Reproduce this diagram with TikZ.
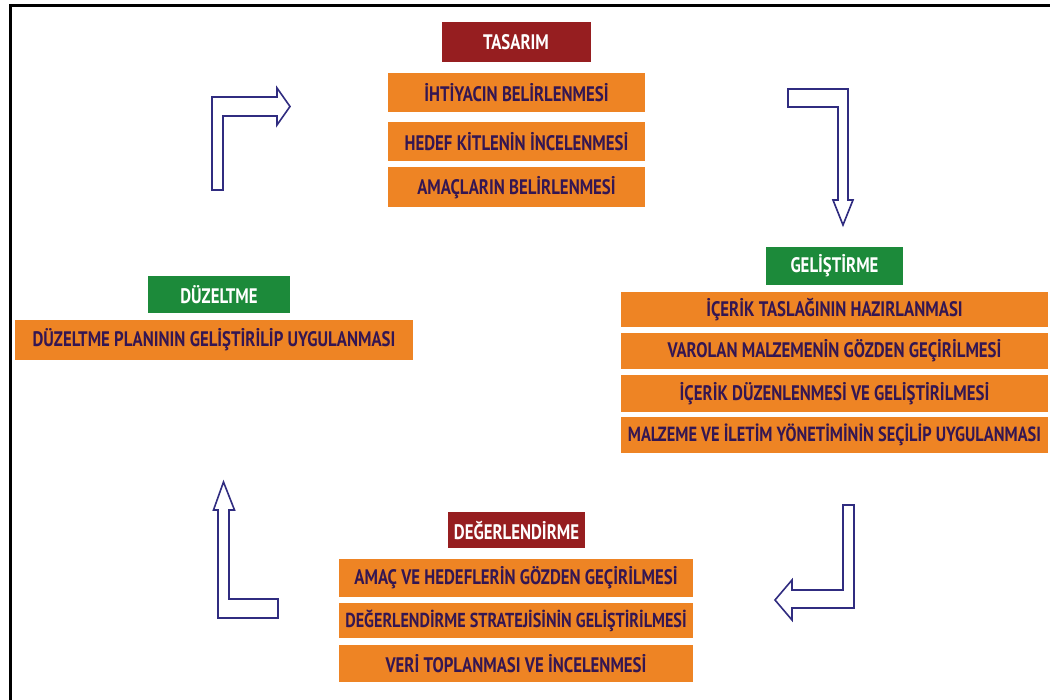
\documentclass[tikz,border=0pt]{standalone}
\usepackage{fontspec}
\setmainfont{PT Sans}[FakeStretch=0.8]
\definecolor{boxorange}{RGB}{238,132,36}
\definecolor{darkred}{RGB}{150,30,32}
\definecolor{darkgreen}{RGB}{28,138,58}
\definecolor{txtpurple}{RGB}{52,22,82}
\definecolor{arrowblue}{RGB}{48,44,128}
\tikzset{
  rowbox/.style={fill=boxorange, text=txtpurple, inner sep=0pt, font=\fontsize{21}{23}\selectfont\bfseries, align=center},
  redtitle/.style={fill=darkred, text=white, inner sep=0pt, font=\fontsize{21}{23}\selectfont\bfseries},
  greentitle/.style={fill=darkgreen, text=white, inner sep=0pt, font=\fontsize{21}{23}\selectfont\bfseries},
  blockarrow/.style={draw=arrowblue, line width=1.6pt, fill=white, line join=miter}
}
\begin{document}
\begin{tikzpicture}[x=1pt,y=-1pt]
\useasboundingbox (0,0) rectangle (1050,700);
\fill[white] (0,0) rectangle (1050,700);
% frame
\draw[line width=3pt] (10.5,700) -- (10.5,6) -- (1050,6);

% TASARIM
\node[redtitle, minimum width=149pt, minimum height=40pt] (tas) at (516,42) {TASARIM};
\node[rowbox, minimum width=257pt, minimum height=39pt] (t1) at (516.5,93) {İHTİYACIN BELİRLENMESİ};
\node[rowbox, minimum width=257pt, minimum height=39pt] (t2) at (516.5,141.5) {HEDEF KİTLENİN İNCELENMESİ};
\node[rowbox, minimum width=257pt, minimum height=40pt] (t3) at (516.5,187.5) {AMAÇLARIN BELİRLENMESİ};

% GELISTIRME
\node[greentitle, minimum width=137pt, minimum height=38pt] (gel) at (834.5,266) {GELİŞTİRME};
\node[rowbox, minimum width=427pt, minimum height=35pt] (g1) at (834.5,309.5) {İÇERİK TASLAĞININ HAZIRLANMASI};
\node[rowbox, minimum width=427pt, minimum height=36pt] (g2) at (834.5,351) {VAROLAN MALZEMENİN GÖZDEN GEÇİRİLMESİ};
\node[rowbox, minimum width=427pt, minimum height=37pt] (g3) at (834.5,393.5) {İÇERİK DÜZENLENMESİ VE GELİŞTİRİLMESİ};
\node[rowbox, minimum width=427pt, minimum height=36pt, font=\fontsize{20.5}{23}\selectfont\bfseries] (g4) at (834.5,435) {MALZEME VE İLETİM YÖNETİMİNİN SEÇİLİP UYGULANMASI};

% DUZELTME
\node[greentitle, minimum width=142pt, minimum height=37pt] (duz) at (219,294.5) {DÜZELTME};
\node[rowbox, minimum width=398pt, minimum height=40pt] (d1) at (214,340) {DÜZELTME PLANININ GELİŞTİRİLİP UYGULANMASI};

% DEGERLENDIRME
\node[redtitle, minimum width=137pt, minimum height=36pt] (deg) at (516.5,530) {DEĞERLENDİRME};
\node[rowbox, minimum width=354pt, minimum height=38pt] (e1) at (516,578) {AMAÇ VE HEDEFLERİN GÖZDEN GEÇİRİLMESİ};
\node[rowbox, minimum width=354pt, minimum height=35pt, font=\fontsize{20.2}{23}\selectfont\bfseries] (e2) at (516,620.5) {DEĞERLENDİRME STRATEJİSİNİN GELİŞTİRİLMESİ};
\node[rowbox, minimum width=354pt, minimum height=37pt] (e3) at (516,663.5) {VERİ TOPLANMASI VE İNCELENMESİ};

% block arrows
\draw[blockarrow] (212,190) -- (212,97) -- (277,97) -- (277,88) -- (290,106.5) -- (277,125) -- (277,116) -- (223,116) -- (223,190) -- cycle;
\draw[blockarrow] (788,89) -- (848,89) -- (848,200) -- (853,200) -- (843,225) -- (833,200) -- (838,200) -- (838,107) -- (788,107) -- cycle;
\draw[blockarrow] (854,505) -- (854,608) -- (792,608) -- (792,620) -- (775,600) -- (792,580) -- (792,590) -- (843,590) -- (843,505) -- cycle;
\draw[blockarrow] (278,618) -- (218,618) -- (218,510) -- (213.5,510) -- (223.5,482) -- (234.5,510) -- (229,510) -- (229,599) -- (278,599) -- cycle;
\end{tikzpicture}
\end{document}
